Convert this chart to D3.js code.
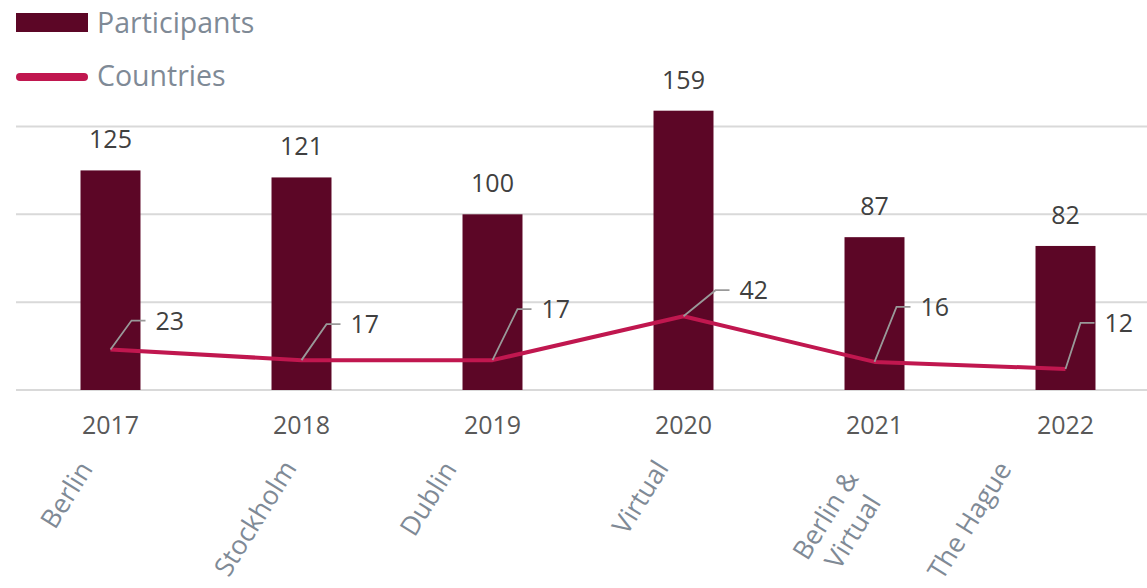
<!DOCTYPE html>
<html><head><meta charset="utf-8">
<script src="https://cdn.jsdelivr.net/npm/d3@7"></script>
<style>
html,body{margin:0;padding:0;background:#fff;}
svg{display:block;font-family:"Open Sans","Noto Sans",sans-serif;}
</style></head>
<body>
<svg id="c" width="1147" height="588"></svg>
<script>
// ---- data ----
const years = ["2017","2018","2019","2020","2021","2022"];
const cities = [["Berlin"],["Stockholm"],["Dublin"],["Virtual"],["Berlin &","Virtual"],["The Hague"]];
const participants = [125,121,100,159,87,82];
const countries = [23,17,17,42,16,12];
const yTicks = [0,50,100,150];
const seriesNames = ["Participants","Countries"];

// ---- layout (label placement only) ----
const leader = [[21,-29],[25,-36],[25,-51],[32,-26],[22,-55],[15,-46]];
const cityDx = [-17,-4,-35,-14,-15,-53];
const cityY = [469,468,469,468,478,469];

const colBar = "#5C0626", colLine = "#C0174F";
const svg = d3.select("#c");

const x = d3.scaleBand().domain(years).range([15,1161]).paddingInner(0.686).paddingOuter(0.343);
const y = d3.scaleLinear().domain([0,150]).range([390,126.5]);
const cx = d => x(d) + x.bandwidth()/2;

// gridlines
svg.append("g").selectAll("line").data(yTicks).join("line")
  .attr("x1",16).attr("x2",1147)
  .attr("y1",d=>y(d)).attr("y2",d=>y(d))
  .attr("stroke","#d9d9d9").attr("stroke-width",2);

// bars
svg.append("g").selectAll("rect").data(years).join("rect")
  .attr("x",d=>x(d)).attr("width",x.bandwidth())
  .attr("y",(d,i)=>y(participants[i]))
  .attr("height",(d,i)=>y(0)-y(participants[i]))
  .attr("fill",colBar);

// bar value labels
svg.append("g").selectAll("text").data(years).join("text")
  .attr("x",d=>cx(d)).attr("y",(d,i)=>y(participants[i])-22)
  .attr("text-anchor","middle").attr("font-size",25).attr("fill","#404040")
  .text((d,i)=>participants[i]);

// line
const line = d3.line().x((d,i)=>cx(years[i])).y(d=>y(d));
svg.append("path").datum(countries).attr("d",line)
  .attr("fill","none").attr("stroke",colLine).attr("stroke-width",4).attr("stroke-linejoin","round");

// leader lines + labels
const lg = svg.append("g");
countries.forEach((v,i)=>{
  const px = cx(years[i]), py = y(v);
  const ex = px + leader[i][0], ey = py + leader[i][1];
  lg.append("polyline").attr("points",`${px},${py} ${ex},${ey} ${ex+14},${ey}`)
    .attr("fill","none").attr("stroke","#999").attr("stroke-width",1.8);
  lg.append("text").attr("x",ex+24).attr("y",ey).attr("dy","0.36em")
    .attr("font-size",25).attr("fill","#404040").text(v);
});

// year axis labels
svg.append("g").selectAll("text").data(years).join("text")
  .attr("x",d=>cx(d)).attr("y",434).attr("text-anchor","middle")
  .attr("font-size",25).attr("fill","#595959").text(d=>d);

// city labels
const cg = svg.append("g");
cities.forEach((lines,i)=>{
  const g = cg.append("g").attr("transform",`translate(${cx(years[i])+cityDx[i]},${cityY[i]}) rotate(-58)`);
  const t1 = g.append("text").attr("text-anchor","end").attr("font-size",26.5).attr("fill","#7F8A96").text(lines[0]);
  if(lines.length>1){
    const w1 = t1.node().getComputedTextLength();
    g.append("text").attr("x",-w1/2).attr("y",32).attr("text-anchor","middle")
      .attr("font-size",26.5).attr("fill","#7F8A96").text(lines[1]);
  }
});

// legend
svg.append("rect").attr("x",16).attr("y",13).attr("width",72).attr("height",19).attr("fill",colBar);
svg.append("line").attr("x1",20).attr("x2",84).attr("y1",77).attr("y2",77)
  .attr("stroke",colLine).attr("stroke-width",8).attr("stroke-linecap","round");
svg.append("text").attr("x",97).attr("y",33).attr("font-size",28.5).attr("fill","#7F8A96").text(seriesNames[0]);
svg.append("text").attr("x",97).attr("y",86).attr("font-size",28.5).attr("fill","#7F8A96").text(seriesNames[1]);
</script>
</body></html>
